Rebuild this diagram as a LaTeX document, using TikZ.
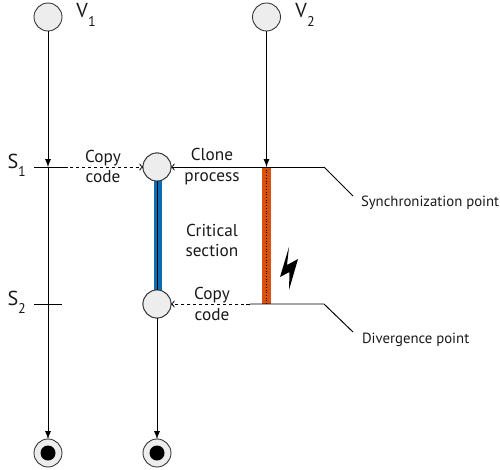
\documentclass[tikz,border=0pt]{standalone}
\usepackage{fontspec}
\setmainfont{PT Sans}
\definecolor{critblue}{HTML}{0F6CB0}
\definecolor{critorange}{HTML}{D9500F}
\begin{document}
\begin{tikzpicture}[>=latex,
  every node/.style={inner sep=0pt,outer sep=0pt},
  state/.style={circle,draw=black!80,fill=black!7,line width=0.5pt,minimum size=0.56cm},
  final/.style={state,path picture={\fill[black] (path picture bounding box.center) circle (0.15);}},
  lbl/.style={font=\fontsize{9.8}{11.9}\selectfont,align=center,text=black!90},
  note/.style={font=\fontsize{8.4}{10}\selectfont,anchor=west,text=black!90},
  thread/.style={font=\fontsize{11.5}{13}\selectfont,text=black!90},
  idx/.style={font=\fontsize{8}{9}\selectfont,text=black!90},
  line/.style={line width=0.55pt},
  fine/.style={line width=0.55pt,dash pattern=on 2pt off 1.4pt,>=to}]
\useasboundingbox (0,0) rectangle (10,9.38);

\node[state] (v1) at (0.96, 9.04) {};
\node[state] (v2) at (5.33, 9.04) {};
\node[state] (c1) at (3.14, 6.04) {};
\node[state] (c2) at (3.14, 3.30) {};
\node[final] (e1) at (0.96, 0.32) {};
\node[final] (e2) at (3.14, 0.32) {};

\coordinate (s1) at (0.96, 6.04);
\coordinate (s2) at (0.96, 3.30);
\coordinate (s1l) at (0.68, 6.04);
\coordinate (s1r) at (1.28, 6.04);
\coordinate (s2l) at (0.68, 3.30);
\coordinate (s2r) at (1.24, 3.30);
\coordinate (t1) at (5.33, 6.04);
\coordinate (t2) at (5.33, 3.30);
\coordinate (d2) at (5.00, 3.30);
\coordinate (k1) at (6.48, 6.04);
\coordinate (k2) at (6.48, 3.30);
\coordinate (n1) at (7.06, 5.46);
\coordinate (n2) at (7.06, 2.74);

% critical sections
\fill[critblue] (3.08, 6.04) rectangle (3.24, 3.30);
\fill[critorange] (5.24, 6.04) rectangle (5.42, 3.30);

\path[->,line] (v1) edge (s1);
\path[->,line] (s1) edge (e1);
\path[->,line] (v2) edge (t1);
\path[->,line] (c2) edge (e2);
\draw[line] (c1) -- (c2);
\draw[line,densely dotted] (t1) -- (t2);

\draw[line] (s1l) -- (s1r);
\draw[line] (s2l) -- (s2r);
\draw[->,fine] (s1r) -- (c1);
\draw[->,line,>=to] (k1) -- (c1);
\draw[->,fine] (d2) -- (c2);
\draw[line] (d2) -- (k2) -- (n2);
\draw[line] (k1) -- (n1);

\node[state] at (c1) {};
\node[state] at (c2) {};

\node[thread] (v1t) at (1.64, 9.16) {V};
\node[idx] (v1i) at (1.84, 8.96) {1};
\node[thread] (v2t) at (6.02, 9.16) {V};
\node[idx] (v2i) at (6.22, 8.96) {2};
\node[thread] (s1t) at (0.26, 6.16) {S};
\node[idx] (s1i) at (0.44, 5.96) {1};
\node[thread] (s2t) at (0.26, 3.42) {S};
\node[idx] (s2i) at (0.44, 3.22) {2};

\node[lbl] (copy1) at (2.06, 6.05) {Copy\\code};
\node[lbl] (clone) at (4.24, 6.05) {Clone\\process};
\node[lbl] (crit) at (4.24, 4.57) {Critical\\section};
\node[lbl] (copy2) at (4.24, 3.30) {Copy\\code};
\node[note] (sync) at (7.22, 5.32) {Synchronization point};
\node[note] (div) at (7.24, 2.58) {Divergence point};

\fill[black] (5.78, 4.44) -- (5.60, 3.84) -- (5.79, 3.94) -- (5.78, 3.58)
  -- (5.96, 4.20) -- (5.74, 4.08) -- cycle;
\end{tikzpicture}
\end{document}
